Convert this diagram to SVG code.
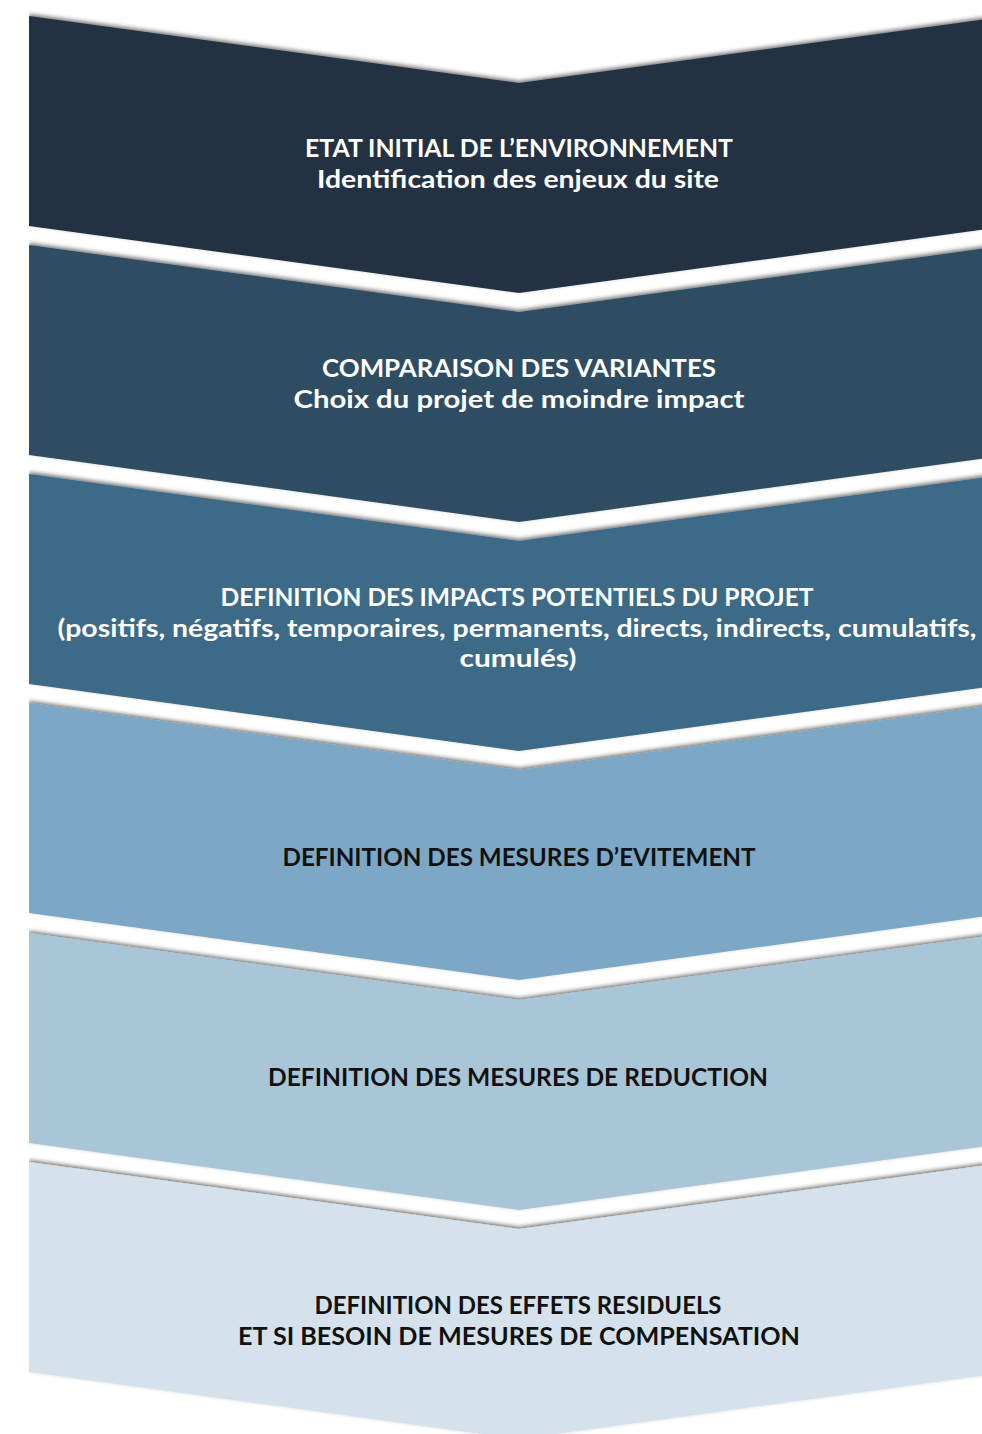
<svg xmlns="http://www.w3.org/2000/svg" width="982" height="1434" viewBox="0 0 982 1434">
<style>
.t{font-family:"Lato","Liberation Sans",sans-serif;font-weight:700;font-size:24px;text-anchor:middle}
.w{fill:#ffffff}
.k{fill:#111111}
</style>
<defs>
<filter id="sh" x="0%" y="-10%" width="100%" height="120%">
<feDropShadow dx="0" dy="-2" stdDeviation="2" flood-color="#000" flood-opacity="0.55"/>
</filter>
<path id="chev" d="M29,0 L519,67 L1010,0 L1010,210 L519,277 L29,210 Z"/>
</defs>
<rect width="982" height="1434" fill="#ffffff"/>
<g id="step1">
<use href="#chev" y="16" fill="#213343" filter="url(#sh)"/>
<text class="t w" x="519" y="157" textLength="428" lengthAdjust="spacingAndGlyphs">ETAT INITIAL DE L’ENVIRONNEMENT</text>
<text class="t w" x="518" y="188" textLength="402" lengthAdjust="spacingAndGlyphs">Identification des enjeux du site</text>
</g>
<g id="step2">
<use href="#chev" y="245" fill="#2e4e64" filter="url(#sh)"/>
<text class="t w" x="519" y="377" textLength="394" lengthAdjust="spacingAndGlyphs">COMPARAISON DES VARIANTES</text>
<text class="t w" x="519" y="408" textLength="451" lengthAdjust="spacingAndGlyphs">Choix du projet de moindre impact</text>
</g>
<g id="step3">
<use href="#chev" y="474" fill="#3d6a87" filter="url(#sh)"/>
<text class="t w" x="517" y="606" textLength="593" lengthAdjust="spacingAndGlyphs">DEFINITION DES IMPACTS POTENTIELS DU PROJET</text>
<text class="t w" x="517" y="637" textLength="919" lengthAdjust="spacingAndGlyphs">(positifs, négatifs, temporaires, permanents, directs, indirects, cumulatifs,</text>
<text class="t w" x="518" y="667" textLength="117" lengthAdjust="spacingAndGlyphs">cumulés)</text>
</g>
<g id="step4">
<use href="#chev" y="703" fill="#7ca8c5" filter="url(#sh)"/>
<text class="t k" x="519" y="866" textLength="473" lengthAdjust="spacingAndGlyphs">DEFINITION DES MESURES D’EVITEMENT</text>
</g>
<g id="step5">
<use href="#chev" y="933" fill="#a9c6d8" filter="url(#sh)"/>
<text class="t k" x="518" y="1086" textLength="500" lengthAdjust="spacingAndGlyphs">DEFINITION DES MESURES DE REDUCTION</text>
</g>
<g id="step6">
<use href="#chev" y="1162" fill="#d5e2eb" filter="url(#sh)"/>
<text class="t k" x="518" y="1314" textLength="407" lengthAdjust="spacingAndGlyphs">DEFINITION DES EFFETS RESIDUELS</text>
<text class="t k" x="519" y="1345" textLength="562" lengthAdjust="spacingAndGlyphs">ET SI BESOIN DE MESURES DE COMPENSATION</text>
</g>
<g id="connectors"/>
</svg>
